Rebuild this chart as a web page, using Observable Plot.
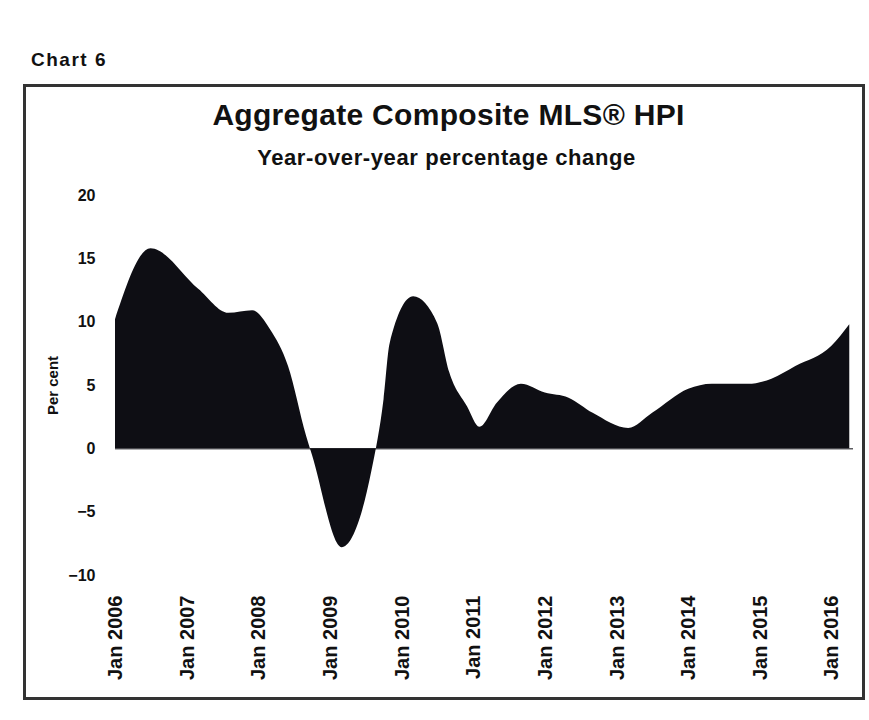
<!DOCTYPE html>
<html>
<head>
<meta charset="utf-8">
<script src="https://cdn.jsdelivr.net/npm/d3@7"></script>
<script src="https://cdn.jsdelivr.net/npm/@observablehq/plot@0.6"></script>
<style>
  html, body { margin: 0; padding: 0; background: #fff; width: 869px; height: 720px; overflow: hidden; }
  body { position: relative; font-family: "Liberation Sans", Arial, sans-serif; color: #111; }
  #chartno { position: absolute; left: 31px; top: 49px; font-size: 19px; font-weight: bold; letter-spacing: 1.5px; }
  #frame { position: absolute; left: 23px; top: 84px; width: 836px; height: 610px; border: 3px solid #333; box-sizing: content-box; }
  #title { position: absolute; left: 0; width: 869px; top: 98px; text-align: center; font-size: 30px; font-weight: bold; padding-left: 28px; box-sizing: border-box; letter-spacing: 0.3px; }
  #subtitle { position: absolute; left: 0; width: 869px; top: 145px; text-align: center; font-size: 22px; font-weight: bold; padding-left: 24px; box-sizing: border-box; letter-spacing: 0.6px; }
  #plot { position: absolute; left: 0; top: 160px; }
</style>
</head>
<body>
<div id="chartno">Chart 6</div>
<div id="frame"></div>
<div id="title">Aggregate Composite MLS® HPI</div>
<div id="subtitle">Year-over-year percentage change</div>
<div id="plot"></div>
<script>
// Year-over-year % change
const months = ["2006-01","2006-07","2007-03","2007-08","2007-12","2008-03","2008-06","2008-09","2008-10",
  "2009-03","2009-08","2009-10","2009-11","2010-03","2010-07","2010-09","2010-12","2011-02","2011-05",
  "2011-09","2012-01","2012-05","2012-09","2013-03","2013-07","2014-01","2014-05","2014-11","2015-03",
  "2015-07","2016-01","2016-04"];
const values = [10.2,15.8,12.6,10.7,10.9,9.4,6.5,1.0,-0.5,
  -7.8,-1.7,3.9,8.3,12.0,9.9,6.0,3.3,1.7,3.6,
  5.1,4.4,4.0,2.8,1.6,2.8,4.7,5.1,5.1,5.5,
  6.5,8.1,9.8];
const yTicks = [20,15,10,5,0,-5,-10];
const xTickYears = ["2006","2007","2008","2009","2010","2011","2012","2013","2014","2015","2016"];

const data = months.map((m, i) => ({date: new Date(m + "-01T00:00:00Z"), value: values[i]}));
const xTicks = xTickYears.map(y => new Date(y + "-01-01T00:00:00Z"));

const chart = Plot.plot({
  width: 869,
  height: 530,
  marginLeft: 115,
  marginRight: 16,
  marginTop: 35,
  marginBottom: 115,
  style: {fontFamily: "Liberation Sans, Arial, sans-serif", fontWeight: "bold", color: "#111", background: "transparent"},
  x: {
    type: "utc",
    domain: [new Date("2006-01-01T00:00:00Z"), new Date("2016-04-20T00:00:00Z")],
    ticks: xTicks,
    tickFormat: d3.utcFormat("%b %Y"),
    tickRotate: -90,
    tickSize: 0,
    tickPadding: 20,
    label: null
  },
  y: {
    domain: [-10, 20],
    ticks: yTicks,
    tickSize: 0,
    tickPadding: 20,
    label: "Per cent",
    labelAnchor: "center",
    labelOffset: 68
  },
  marks: [
    Plot.areaY(data, {x: "date", y: "value", fill: "#0e0e14", curve: "monotone-x"}),
    Plot.ruleY([0], {stroke: "#0e0e14", strokeWidth: 1})
  ]
});
document.getElementById("plot").appendChild(chart);
chart.querySelectorAll("text").forEach(t => {
  t.style.fontSize = "16px";
  if (t.textContent.includes("Per cent")) {
    t.textContent = "Per cent";
    t.style.fontSize = "15px";
  }
});
chart.querySelectorAll("g[aria-label='x-axis tick label'] text").forEach(t => { t.style.fontSize = "20px"; });
</script>
</body>
</html>
